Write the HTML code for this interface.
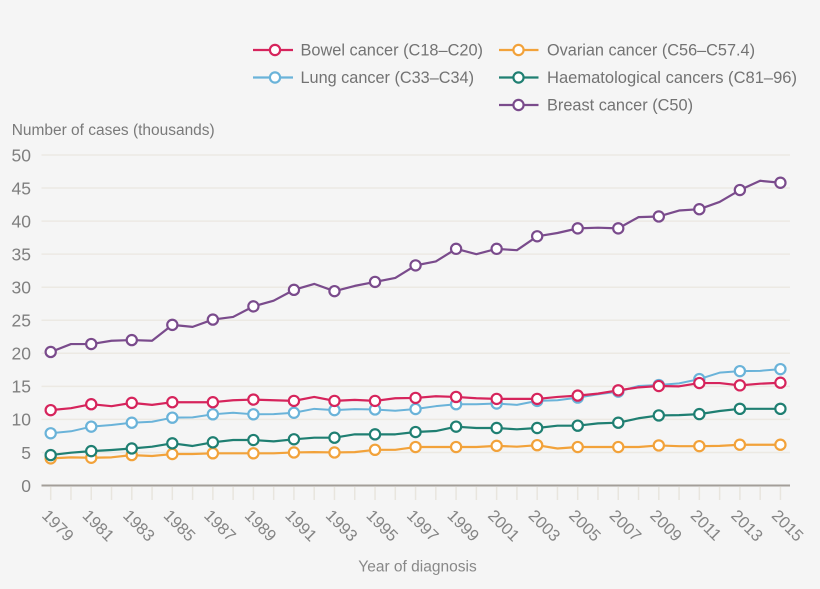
<!DOCTYPE html>
<html><head><meta charset="utf-8"><style>
html,body{margin:0;padding:0;background:#f5f5f5;}
svg{display:block;font-family:"Liberation Sans",sans-serif;}
</style></head><body>
<svg width="820" height="589" viewBox="0 0 820 589" xmlns="http://www.w3.org/2000/svg">
<rect width="820" height="589" fill="#f5f5f5"/>
<!-- gridlines -->
<g stroke="#ece9e3" stroke-width="1.5">
<line x1="41.5" y1="155" x2="790" y2="155"/>
<line x1="41.5" y1="188.05" x2="790" y2="188.05"/>
<line x1="41.5" y1="221.1" x2="790" y2="221.1"/>
<line x1="41.5" y1="254.15" x2="790" y2="254.15"/>
<line x1="41.5" y1="287.2" x2="790" y2="287.2"/>
<line x1="41.5" y1="320.25" x2="790" y2="320.25"/>
<line x1="41.5" y1="353.3" x2="790" y2="353.3"/>
<line x1="41.5" y1="386.35" x2="790" y2="386.35"/>
<line x1="41.5" y1="419.4" x2="790" y2="419.4"/>
<line x1="41.5" y1="452.45" x2="790" y2="452.45"/>
</g>
<!-- ticks -->
<g stroke="#e8e5de" stroke-width="1.5">
<line x1="50.7" y1="487" x2="50.7" y2="500"/><line x1="70.97" y1="487" x2="70.97" y2="500"/><line x1="91.24" y1="487" x2="91.24" y2="500"/><line x1="111.51" y1="487" x2="111.51" y2="500"/><line x1="131.78" y1="487" x2="131.78" y2="500"/><line x1="152.05" y1="487" x2="152.05" y2="500"/><line x1="172.32" y1="487" x2="172.32" y2="500"/><line x1="192.59" y1="487" x2="192.59" y2="500"/><line x1="212.86" y1="487" x2="212.86" y2="500"/><line x1="233.13" y1="487" x2="233.13" y2="500"/><line x1="253.4" y1="487" x2="253.4" y2="500"/><line x1="273.67" y1="487" x2="273.67" y2="500"/><line x1="293.94" y1="487" x2="293.94" y2="500"/><line x1="314.21" y1="487" x2="314.21" y2="500"/><line x1="334.48" y1="487" x2="334.48" y2="500"/><line x1="354.75" y1="487" x2="354.75" y2="500"/><line x1="375.02" y1="487" x2="375.02" y2="500"/><line x1="395.29" y1="487" x2="395.29" y2="500"/><line x1="415.56" y1="487" x2="415.56" y2="500"/><line x1="435.83" y1="487" x2="435.83" y2="500"/><line x1="456.1" y1="487" x2="456.1" y2="500"/><line x1="476.37" y1="487" x2="476.37" y2="500"/><line x1="496.64" y1="487" x2="496.64" y2="500"/><line x1="516.91" y1="487" x2="516.91" y2="500"/><line x1="537.18" y1="487" x2="537.18" y2="500"/><line x1="557.45" y1="487" x2="557.45" y2="500"/><line x1="577.72" y1="487" x2="577.72" y2="500"/><line x1="597.99" y1="487" x2="597.99" y2="500"/><line x1="618.26" y1="487" x2="618.26" y2="500"/><line x1="638.53" y1="487" x2="638.53" y2="500"/><line x1="658.8" y1="487" x2="658.8" y2="500"/><line x1="679.07" y1="487" x2="679.07" y2="500"/><line x1="699.34" y1="487" x2="699.34" y2="500"/><line x1="719.61" y1="487" x2="719.61" y2="500"/><line x1="739.88" y1="487" x2="739.88" y2="500"/><line x1="760.15" y1="487" x2="760.15" y2="500"/><line x1="780.42" y1="487" x2="780.42" y2="500"/>
</g>
<!-- axis -->
<line x1="41.5" y1="485.5" x2="790" y2="485.5" stroke="#a39e99" stroke-width="2"/>
<!-- y labels -->
<g fill="#7f7f7f" font-size="17.5" text-anchor="end">
<text x="31" y="161.3">50</text>
<text x="31" y="194.35">45</text>
<text x="31" y="227.4">40</text>
<text x="31" y="260.45">35</text>
<text x="31" y="293.5">30</text>
<text x="31" y="326.55">25</text>
<text x="31" y="359.6">20</text>
<text x="31" y="392.65">15</text>
<text x="31" y="425.7">10</text>
<text x="31" y="458.75">5</text>
<text x="31" y="491.8">0</text>
</g>
<text x="11.7" y="135" fill="#7a7a7a" font-size="15.5" textLength="203" lengthAdjust="spacingAndGlyphs">Number of cases (thousands)</text>
<text x="358.3" y="571.5" fill="#888888" font-size="15.3" textLength="118.4" lengthAdjust="spacingAndGlyphs">Year of diagnosis</text>
<!-- x labels -->
<g fill="#858585" font-size="16.5">
<text transform="translate(41 516.5) rotate(45)">1979</text>
<text transform="translate(81.54 516.5) rotate(45)">1981</text>
<text transform="translate(122.08 516.5) rotate(45)">1983</text>
<text transform="translate(162.62 516.5) rotate(45)">1985</text>
<text transform="translate(203.16 516.5) rotate(45)">1987</text>
<text transform="translate(243.7 516.5) rotate(45)">1989</text>
<text transform="translate(284.24 516.5) rotate(45)">1991</text>
<text transform="translate(324.78 516.5) rotate(45)">1993</text>
<text transform="translate(365.32 516.5) rotate(45)">1995</text>
<text transform="translate(405.86 516.5) rotate(45)">1997</text>
<text transform="translate(446.4 516.5) rotate(45)">1999</text>
<text transform="translate(486.94 516.5) rotate(45)">2001</text>
<text transform="translate(527.48 516.5) rotate(45)">2003</text>
<text transform="translate(568.02 516.5) rotate(45)">2005</text>
<text transform="translate(608.56 516.5) rotate(45)">2007</text>
<text transform="translate(649.1 516.5) rotate(45)">2009</text>
<text transform="translate(689.64 516.5) rotate(45)">2011</text>
<text transform="translate(730.18 516.5) rotate(45)">2013</text>
<text transform="translate(770.72 516.5) rotate(45)">2015</text>
</g>
<!-- series lines -->
<g transform="translate(50.7 485.5) scale(20.27 -6.61)" fill="none" stroke-linejoin="round">
<polyline vector-effect="non-scaling-stroke" stroke="#f2a23a" stroke-width="2.2" points="0,4.1 1,4.26 2,4.2 3,4.26 4,4.6 5,4.46 6,4.76 7,4.76 8,4.87 9,4.87 10,4.87 11,4.87 12,5.0 13,5.05 14,5.0 15,5.05 16,5.4 17,5.4 18,5.82 19,5.82 20,5.82 21,5.82 22,6.0 23,5.87 24,6.1 25,5.6 26,5.82 27,5.82 28,5.82 29,5.82 30,6.06 31,5.95 32,5.95 33,6.0 34,6.17 35,6.17 36,6.17"/>
<polyline vector-effect="non-scaling-stroke" stroke="#1f7f72" stroke-width="2.2" points="0,4.6 1,4.96 2,5.2 3,5.37 4,5.6 5,5.87 6,6.38 7,5.98 8,6.53 9,6.88 10,6.88 11,6.68 12,6.99 13,7.23 14,7.23 15,7.74 16,7.74 17,7.74 18,8.09 19,8.24 20,8.9 21,8.7 22,8.7 23,8.5 24,8.7 25,9.05 26,9.05 27,9.4 28,9.5 29,10.17 30,10.6 31,10.65 32,10.8 33,11.27 34,11.6 35,11.6 36,11.6"/>
<polyline vector-effect="non-scaling-stroke" stroke="#6ab3d9" stroke-width="2" points="0,7.9 1,8.2 2,8.9 3,9.15 4,9.5 5,9.65 6,10.26 7,10.3 8,10.77 9,11.0 10,10.77 11,10.8 12,11.0 13,11.6 14,11.4 15,11.55 16,11.5 17,11.3 18,11.57 19,12.0 20,12.3 21,12.3 22,12.4 23,12.2 24,12.8 25,12.9 26,13.3 27,13.8 28,14.2 29,15.05 30,15.2 31,15.45 32,16.1 33,17.07 34,17.3 35,17.35 36,17.6"/>
<polyline vector-effect="non-scaling-stroke" stroke="#d6245c" stroke-width="2.2" points="0,11.4 1,11.7 2,12.3 3,12.0 4,12.5 5,12.2 6,12.6 7,12.6 8,12.6 9,12.9 10,13.0 11,12.9 12,12.8 13,13.4 14,12.8 15,12.95 16,12.8 17,13.2 18,13.25 19,13.5 20,13.4 21,13.2 22,13.1 23,13.1 24,13.1 25,13.4 26,13.6 27,13.9 28,14.4 29,14.85 30,15.05 31,15.0 32,15.5 33,15.5 34,15.15 35,15.4 36,15.55"/>
<polyline vector-effect="non-scaling-stroke" stroke="#7a4b8c" stroke-width="2.2" points="0,20.2 1,21.4 2,21.4 3,21.9 4,22.0 5,21.9 6,24.3 7,24.0 8,25.1 9,25.5 10,27.1 11,27.96 12,29.6 13,30.5 14,29.4 15,30.2 16,30.8 17,31.4 18,33.3 19,33.9 20,35.8 21,35.0 22,35.8 23,35.6 24,37.7 25,38.2 26,38.9 27,39.0 28,38.9 29,40.6 30,40.7 31,41.6 32,41.8 33,42.9 34,44.7 35,46.1 36,45.8"/>
</g>
<!-- markers -->
<g fill="#ffffff" stroke-width="2.2" stroke="#f2a23a">
<circle cx="50.7" cy="458.4" r="5.1"/><circle cx="91.24" cy="457.74" r="5.1"/><circle cx="131.78" cy="455.09" r="5.1"/><circle cx="172.32" cy="454.04" r="5.1"/><circle cx="212.86" cy="453.31" r="5.1"/><circle cx="253.4" cy="453.31" r="5.1"/><circle cx="293.94" cy="452.45" r="5.1"/><circle cx="334.48" cy="452.45" r="5.1"/><circle cx="375.02" cy="449.81" r="5.1"/><circle cx="415.56" cy="447.03" r="5.1"/><circle cx="456.1" cy="447.03" r="5.1"/><circle cx="496.64" cy="445.84" r="5.1"/><circle cx="537.18" cy="445.18" r="5.1"/><circle cx="577.72" cy="447.03" r="5.1"/><circle cx="618.26" cy="447.03" r="5.1"/><circle cx="658.8" cy="445.44" r="5.1"/><circle cx="699.34" cy="446.17" r="5.1"/><circle cx="739.88" cy="444.72" r="5.1"/><circle cx="780.42" cy="444.72" r="5.1"/>
</g>
<g fill="#ffffff" stroke-width="2.2" stroke="#1f7f72">
<circle cx="50.7" cy="455.09" r="5.1"/><circle cx="91.24" cy="451.13" r="5.1"/><circle cx="131.78" cy="448.48" r="5.1"/><circle cx="172.32" cy="443.33" r="5.1"/><circle cx="212.86" cy="442.34" r="5.1"/><circle cx="253.4" cy="440.02" r="5.1"/><circle cx="293.94" cy="439.3" r="5.1"/><circle cx="334.48" cy="437.71" r="5.1"/><circle cx="375.02" cy="434.34" r="5.1"/><circle cx="415.56" cy="432.03" r="5.1"/><circle cx="456.1" cy="426.67" r="5.1"/><circle cx="496.64" cy="427.99" r="5.1"/><circle cx="537.18" cy="427.99" r="5.1"/><circle cx="577.72" cy="425.68" r="5.1"/><circle cx="618.26" cy="422.7" r="5.1"/><circle cx="658.8" cy="415.43" r="5.1"/><circle cx="699.34" cy="414.11" r="5.1"/><circle cx="739.88" cy="408.82" r="5.1"/><circle cx="780.42" cy="408.82" r="5.1"/>
</g>
<g fill="#ffffff" stroke-width="2.2" stroke="#6ab3d9">
<circle cx="50.7" cy="433.28" r="5.1"/><circle cx="91.24" cy="426.67" r="5.1"/><circle cx="131.78" cy="422.7" r="5.1"/><circle cx="172.32" cy="417.68" r="5.1"/><circle cx="212.86" cy="414.31" r="5.1"/><circle cx="253.4" cy="414.31" r="5.1"/><circle cx="293.94" cy="412.79" r="5.1"/><circle cx="334.48" cy="410.15" r="5.1"/><circle cx="375.02" cy="409.48" r="5.1"/><circle cx="415.56" cy="409.02" r="5.1"/><circle cx="456.1" cy="404.2" r="5.1"/><circle cx="496.64" cy="403.54" r="5.1"/><circle cx="537.18" cy="400.89" r="5.1"/><circle cx="577.72" cy="397.59" r="5.1"/><circle cx="618.26" cy="391.64" r="5.1"/><circle cx="658.8" cy="385.03" r="5.1"/><circle cx="699.34" cy="379.08" r="5.1"/><circle cx="739.88" cy="371.15" r="5.1"/><circle cx="780.42" cy="369.16" r="5.1"/>
</g>
<g fill="#ffffff" stroke-width="2.2" stroke="#d6245c">
<circle cx="50.7" cy="410.15" r="5.1"/><circle cx="91.24" cy="404.2" r="5.1"/><circle cx="131.78" cy="402.87" r="5.1"/><circle cx="172.32" cy="402.21" r="5.1"/><circle cx="212.86" cy="402.21" r="5.1"/><circle cx="253.4" cy="399.57" r="5.1"/><circle cx="293.94" cy="400.89" r="5.1"/><circle cx="334.48" cy="400.89" r="5.1"/><circle cx="375.02" cy="400.89" r="5.1"/><circle cx="415.56" cy="397.92" r="5.1"/><circle cx="456.1" cy="396.93" r="5.1"/><circle cx="496.64" cy="398.91" r="5.1"/><circle cx="537.18" cy="398.91" r="5.1"/><circle cx="577.72" cy="395.6" r="5.1"/><circle cx="618.26" cy="390.32" r="5.1"/><circle cx="658.8" cy="386.02" r="5.1"/><circle cx="699.34" cy="383.04" r="5.1"/><circle cx="739.88" cy="385.36" r="5.1"/><circle cx="780.42" cy="382.71" r="5.1"/>
</g>
<g fill="#ffffff" stroke-width="2.2" stroke="#7a4b8c">
<circle cx="50.7" cy="351.98" r="5.1"/><circle cx="91.24" cy="344.05" r="5.1"/><circle cx="131.78" cy="340.08" r="5.1"/><circle cx="172.32" cy="324.88" r="5.1"/><circle cx="212.86" cy="319.59" r="5.1"/><circle cx="253.4" cy="306.37" r="5.1"/><circle cx="293.94" cy="289.84" r="5.1"/><circle cx="334.48" cy="291.17" r="5.1"/><circle cx="375.02" cy="281.91" r="5.1"/><circle cx="415.56" cy="265.39" r="5.1"/><circle cx="456.1" cy="248.86" r="5.1"/><circle cx="496.64" cy="248.86" r="5.1"/><circle cx="537.18" cy="236.3" r="5.1"/><circle cx="577.72" cy="228.37" r="5.1"/><circle cx="618.26" cy="228.37" r="5.1"/><circle cx="658.8" cy="216.47" r="5.1"/><circle cx="699.34" cy="209.2" r="5.1"/><circle cx="739.88" cy="190.03" r="5.1"/><circle cx="780.42" cy="182.76" r="5.1"/>
</g>
<!-- legend -->
<g stroke-width="2.2" fill="#ffffff">
<line x1="253" y1="50" x2="293" y2="50" stroke="#d6245c"/><circle cx="275" cy="50" r="5.1" stroke="#d6245c"/>
<line x1="253" y1="77.5" x2="293" y2="77.5" stroke="#6ab3d9"/><circle cx="275" cy="77.5" r="5.1" stroke="#6ab3d9"/>
<line x1="499" y1="50" x2="538.5" y2="50" stroke="#f2a23a"/><circle cx="518.5" cy="50" r="5.1" stroke="#f2a23a"/>
<line x1="499" y1="77.5" x2="538.5" y2="77.5" stroke="#1f7f72"/><circle cx="518.5" cy="77.5" r="5.1" stroke="#1f7f72"/>
<line x1="499" y1="105" x2="538.5" y2="105" stroke="#7a4b8c"/><circle cx="518.5" cy="105" r="5.1" stroke="#7a4b8c"/>
</g>
<g fill="#737373" font-size="16.2">
<text x="300.5" y="55.5" textLength="182.5" lengthAdjust="spacingAndGlyphs">Bowel cancer (C18–C20)</text>
<text x="300.5" y="83" textLength="173.5" lengthAdjust="spacingAndGlyphs">Lung cancer (C33–C34)</text>
<text x="547" y="55.5" textLength="208" lengthAdjust="spacingAndGlyphs">Ovarian cancer (C56–C57.4)</text>
<text x="547" y="83" textLength="250" lengthAdjust="spacingAndGlyphs">Haematological cancers (C81–96)</text>
<text x="547" y="110.5" textLength="146" lengthAdjust="spacingAndGlyphs">Breast cancer (C50)</text>
</g>
</svg>
</body></html>
